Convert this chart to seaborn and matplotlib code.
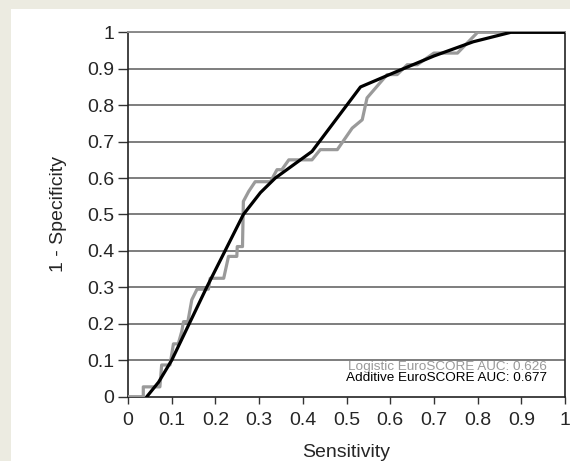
import numpy as np
import matplotlib
matplotlib.use("Agg")
import matplotlib.pyplot as plt
import seaborn as sns
from matplotlib.patches import Rectangle

# --- data ---
additive_x = [0.043, 0.07, 0.10, 0.14, 0.18, 0.222, 0.264, 0.303, 0.337, 0.421,
              0.532, 0.616, 0.70, 0.79, 0.876, 1.0]
additive_y = [0.0, 0.04, 0.10, 0.20, 0.30, 0.40, 0.50, 0.56, 0.60, 0.673,
              0.85, 0.893, 0.935, 0.974, 1.0, 1.0]

logistic_x = [0.0, 0.035, 0.035, 0.073, 0.077, 0.096, 0.104, 0.115, 0.123, 0.127,
              0.137, 0.146, 0.158, 0.184, 0.188, 0.219, 0.23, 0.249, 0.25, 0.262,
              0.264, 0.276, 0.291, 0.326, 0.341, 0.352, 0.368, 0.421, 0.44, 0.479,
              0.513, 0.536, 0.547, 0.593, 0.616, 0.639, 0.662, 0.70, 0.754, 0.80, 1.0]
logistic_y = [0.0, 0.0, 0.027, 0.027, 0.087, 0.087, 0.145, 0.145, 0.179, 0.206,
              0.206, 0.266, 0.295, 0.295, 0.325, 0.325, 0.385, 0.385, 0.412, 0.412,
              0.536, 0.563, 0.59, 0.59, 0.623, 0.623, 0.65, 0.65, 0.678, 0.678,
              0.737, 0.76, 0.82, 0.884, 0.884, 0.911, 0.911, 0.943, 0.943, 1.0, 1.0]

ticks = np.round(np.arange(0, 1.01, 0.1), 1)
tick_labels = ["%g" % t for t in ticks]

legend_lines = [("Logistic EuroSCORE AUC: 0.626", "#999999"),
                ("Additive EuroSCORE AUC: 0.677", "black")]

# --- figure ---
sns.set_theme(style="white")
plt.rcParams["font.family"] = ["Liberation Sans", "DejaVu Sans"]

W, H = 570, 461
fig = plt.figure(figsize=(W / 100, H / 100), dpi=100)
fig.patch.set_facecolor("#ecebe1")
# white inner panel
panel = Rectangle((11 / W, 0), 1, 1 - 9 / H, transform=fig.transFigure,
                  facecolor="white", edgecolor="none", zorder=-10)
fig.add_artist(panel)

ax = fig.add_axes([128 / W, 1 - 396.7 / H, (565 - 128) / W, (396.7 - 32.3) / H])
ax.set_facecolor("white")

for yv in ticks[1:]:
    ax.axhline(yv, color="#5a5a5a", lw=1.1, zorder=1)

sns.lineplot(x=logistic_x, y=logistic_y, sort=False, estimator=None,
             color="#9a9a9a", lw=2.3, ax=ax, zorder=3)
sns.lineplot(x=additive_x, y=additive_y, sort=False, estimator=None,
             color="black", lw=2.3, ax=ax, zorder=4)

ax.set_xlim(0, 1)
ax.set_ylim(0, 1)
ax.set_xticks(ticks)
ax.set_xticklabels(tick_labels)
ax.set_yticks(ticks)
ax.set_yticklabels(tick_labels)
ax.tick_params(axis="x", direction="out", length=5, width=1, color="#333333",
               pad=6, labelsize=14, bottom=True)
ax.tick_params(axis="y", direction="out", length=7, width=1, color="#333333",
               pad=3, labelsize=14, left=True)

for side in ["left", "bottom", "right"]:
    ax.spines[side].set_visible(True)
    ax.spines[side].set_color("#222222")
    ax.spines[side].set_linewidth(1.2)
ax.spines["top"].set_color("#8a8a8a")
ax.spines["top"].set_linewidth(1.4)

ax.set_xlabel("Sensitivity", fontsize=14, labelpad=11)
ax.set_ylabel("1 - Specificity", fontsize=14, labelpad=14)

for i, (txt, col) in enumerate(legend_lines):
    ax.text(0.959, 0.081 - i * 0.031, txt, color=col, fontsize=9.7,
            ha="right", va="center", transform=ax.transAxes, zorder=5)

fig.savefig("out.png", dpi=100, facecolor=fig.get_facecolor())
